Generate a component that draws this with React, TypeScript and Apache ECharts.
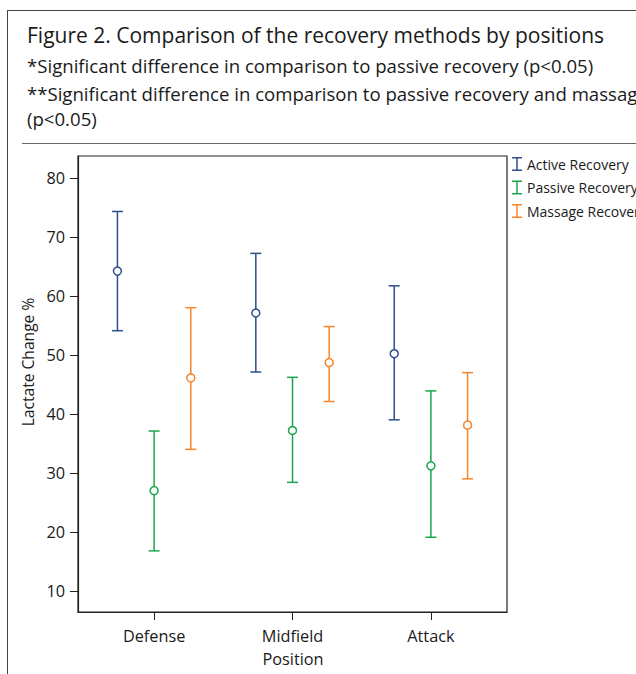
import React, { useEffect, useRef } from "react";
import * as echarts from "echarts";

const categories = ["Defense", "Midfield", "Attack"];
const seriesNames = ["Active Recovery", "Passive Recovery", "Massage Recovery"];
const activeMean = [64.2, 57.1, 50.2];
const activeLow = [54.1, 47.1, 39.0];
const activeHigh = [74.3, 67.2, 61.7];
const passiveMean = [27.0, 37.2, 31.2];
const passiveLow = [16.8, 28.4, 19.1];
const passiveHigh = [37.1, 46.2, 43.9];
const massageMean = [46.1, 48.7, 38.1];
const massageLow = [34.0, 42.1, 29.0];
const massageHigh = [58.0, 54.8, 47.0];
const yTicks = [10, 20, 30, 40, 50, 60, 70, 80];

const FONT = "'Open Sans', 'Noto Sans', sans-serif";
const COLORS = ["#2e4f8b", "#1ba64c", "#f6862c"];
const OFFSETS = [-0.265, 0, 0.265];

export default function App() {
  const ref = useRef<HTMLDivElement>(null);
  useEffect(() => {
    document.body.style.margin = "0";
    const chart = echarts.init(ref.current!, null, { renderer: "svg" });
    const groups = [
      [activeMean, activeLow, activeHigh],
      [passiveMean, passiveLow, passiveHigh],
      [massageMean, massageLow, massageHigh],
    ];
    const series = groups.map(([m, lo, hi], si) => ({
      type: "custom",
      name: seriesNames[si],
      itemStyle: { color: COLORS[si] },
      data: categories.map((_, i) => [i + OFFSETS[si], m[i], lo[i], hi[i]]),
      renderItem: (params: any, api: any) => {
        const x = api.value(0);
        const pm = api.coord([x, api.value(1)]);
        const pl = api.coord([x, api.value(2)]);
        const ph = api.coord([x, api.value(3)]);
        const c = COLORS[si];
        const hw = 5.5;
        const st = { stroke: c, lineWidth: 1.5 };
        return {
          type: "group",
          children: [
            { type: "line", shape: { x1: pl[0], y1: pl[1], x2: ph[0], y2: ph[1] }, style: st },
            { type: "line", shape: { x1: pl[0] - hw, y1: pl[1], x2: pl[0] + hw, y2: pl[1] }, style: st },
            { type: "line", shape: { x1: ph[0] - hw, y1: ph[1], x2: ph[0] + hw, y2: ph[1] }, style: st },
            { type: "circle", shape: { cx: pm[0], cy: pm[1], r: 4 }, style: { fill: "#fff", stroke: c, lineWidth: 1.5 } },
          ],
        };
      },
    }));
    const txt = (text: string, x: number, y: number, size: number, extra: any = {}) => ({
      type: "text",
      x,
      y,
      ...extra,
      style: {
        text,
        fontSize: size,
        fontFamily: FONT,
        fill: "#1a1a1a",
        verticalAlign: "middle",
        align: "left",
        ...(extra.style || {}),
      },
    });
    chart.setOption({
      animation: false,
      backgroundColor: "#fff",
      grid: { left: 78, top: 156, right: 129, bottom: 62, show: true, borderColor: "#222", borderWidth: 1.2 },
      xAxis: {
        type: "value",
        min: -0.55,
        max: 2.55,
        splitLine: { show: false },
        axisLine: { show: true, onZero: false, lineStyle: { color: "#222", width: 1.2 } },
        axisTick: { show: true, length: 8, customValues: [0, 1, 2], lineStyle: { color: "#222" } },
        axisLabel: {
          customValues: [0, 1, 2],
          formatter: (v: number) => categories[Math.round(v)],
          fontSize: 16.3,
          fontFamily: FONT,
          color: "#1a1a1a",
          margin: 16,
        },
      },
      yAxis: {
        type: "value",
        min: 6.44,
        max: 83.7,
        splitLine: { show: false },
        axisLine: { show: true, onZero: false, lineStyle: { color: "#222", width: 1.2 } },
        axisTick: { show: true, length: 8, customValues: yTicks, lineStyle: { color: "#222" } },
        axisLabel: { customValues: yTicks, fontSize: 16.3, fontFamily: FONT, color: "#1a1a1a", margin: 13 },
      },
      legend: {
        orient: "vertical",
        left: 512,
        top: 157,
        itemWidth: 10,
        itemHeight: 14,
        itemGap: 9.5,
        padding: 0,
        icon: "path://M0,0H10V1.5H5.75V12.5H10V14H0V12.5H4.25V1.5H0Z",
        textStyle: { fontSize: 14, fontFamily: FONT, color: "#1a1a1a" },
        data: seriesNames,
      },
      graphic: [
        { type: "line", shape: { x1: 7.5, y1: 10.5, x2: 7.5, y2: 674 }, style: { stroke: "#444", lineWidth: 1 } },
        { type: "line", shape: { x1: 7, y1: 10.5, x2: 636, y2: 10.5 }, style: { stroke: "#444", lineWidth: 1 } },
        { type: "line", shape: { x1: 22, y1: 143.5, x2: 636, y2: 143.5 }, style: { stroke: "#666", lineWidth: 1.2 } },
        txt("Figure 2. Comparison of the recovery methods by positions", 27, 35, 21),
        txt("*Significant difference in comparison to passive recovery (p<0.05)", 27, 65, 18.6),
        txt("**Significant difference in comparison to passive recovery and massage", 27, 93, 18.6),
        txt("(p<0.05)", 27, 118, 18.6),
        txt("Lactate Change %", 28, 362, 15.6, { rotation: Math.PI / 2, style: { align: "center" } }),
        txt("Position", 293, 659, 16.3, { style: { align: "center" } }),
      ],
      series,
    } as any);
    return () => chart.dispose();
  }, []);
  return <div ref={ref} style={{ width: 636, height: 674 }} />;
}
